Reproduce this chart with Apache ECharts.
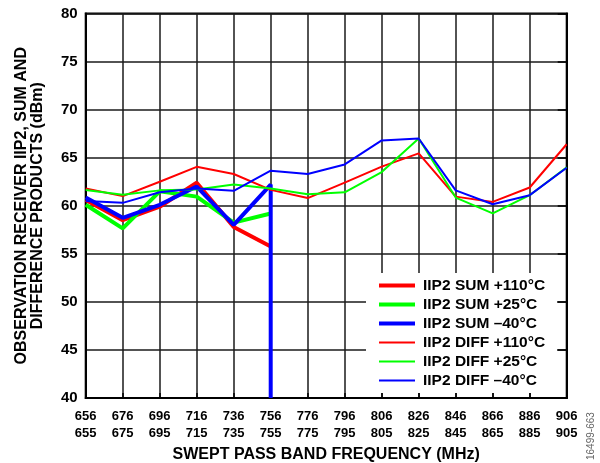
<!DOCTYPE html>
<html>
<head>
<meta charset="utf-8">
<script src="https://cdn.jsdelivr.net/npm/echarts@6/dist/echarts.min.js"></script>
<style>
html,body{margin:0;padding:0;background:#fff;}
#chart{width:600px;height:463px;}
</style>
</head>
<body>
<div id="chart"></div>
<script>
// Tick labels (two rows per category)
var freqTop = ['656','676','696','716','736','756','776','796','806','826','846','866','886','906'];
var freqBottom = ['655','675','695','715','735','755','775','795','805','825','845','865','885','905'];

// IIP2 SUM (only measured up to 756)
var sum110 = [60.6, 58.5, 59.9, 62.4, 57.8, 55.75];
var sum25  = [60.1, 57.65, 61.5, 60.95, 58.25, 59.2];
var sumM40 = [60.85, 58.75, 60.1, 62.0, 58.0, 62.2];
var sumM40Drop = 40; // blue SUM falls off at 756

// IIP2 DIFF
var diff110 = [61.8, 61.0, 62.5, 64.05, 63.3, 61.65, 60.8, 62.4, 64.07, 65.45, 60.95, 60.4, 61.9, 66.4];
var diff25  = [61.65, 61.15, 61.6, 61.7, 62.2, 61.8, 61.2, 61.4, 63.5, 67.0, 60.85, 59.2, 61.1, 64.0];
var diffM40 = [60.5, 60.3, 61.4, 61.8, 61.55, 63.65, 63.3, 64.3, 66.8, 67.0, 61.6, 60.15, 61.1, 63.95];

var names = ['IIP2 SUM +110°C','IIP2 SUM +25°C','IIP2 SUM \u201340°C','IIP2 DIFF +110°C','IIP2 DIFF +25°C','IIP2 DIFF \u201340°C'];
var colors = ['#ff0000','#00ff00','#0000ff','#ff0000','#00ff00','#0000ff'];
var widths = [4, 4, 4, 2, 2, 2];

function pairs(arr){ return arr.map(function(v,i){ return [i, v]; }); }
var blueSumData = pairs(sumM40);
blueSumData.push([sumM40.length - 1, sumM40Drop]);

var FONT = "'Liberation Sans', Arial, Helvetica, sans-serif";
var chart = echarts.init(document.getElementById('chart'), null, {renderer:'canvas'});

function line(i, data){
  return {
    name: names[i], type: 'line', data: data, symbol: 'none', showSymbol: false,
    lineStyle: {color: colors[i], width: widths[i]}, itemStyle: {color: colors[i]},
    animation: false, clip: true
  };
}

var option = {
  animation: false,
  backgroundColor: '#fff',
  grid: {left: 85.7, right: 33.3, top: 13.5, bottom: 65, show: true, borderColor: '#000', borderWidth: 2,
         backgroundColor: 'transparent', containLabel: false, outerBoundsMode: 'none'},
  xAxis: {
    type: 'value', min: 0, max: freqTop.length - 1, interval: 1,
    axisLine: {show: true, lineStyle: {color: '#000', width: 2}},
    axisTick: {show: true, inside: true, length: 5, lineStyle: {color: '#000', width: 1.5}},
    splitLine: {show: true, lineStyle: {color: '#1a1a1a', width: 1.5}},
    axisLabel: {
      show: true, margin: 10, color: '#000', fontFamily: FONT, fontWeight: 'bold', fontSize: 13, lineHeight: 17,
      showMinLabel: true, showMaxLabel: true,
      formatter: function(v){ var i = Math.round(v); return freqTop[i] + '\n' + freqBottom[i]; }
    },
    name: 'SWEPT PASS BAND FREQUENCY (MHz)', nameLocation: 'middle', nameGap: 46,
    nameTextStyle: {color: '#000', fontFamily: FONT, fontWeight: 'bold', fontSize: 16}
  },
  yAxis: [{
    type: 'value', min: 40, max: 80, interval: 5,
    axisLine: {show: true, lineStyle: {color: '#000', width: 2}},
    axisTick: {show: false},
    splitLine: {show: true, lineStyle: {color: '#1a1a1a', width: 1.5}},
    axisLabel: {margin: 8, color: '#000', fontFamily: FONT, fontWeight: 'bold', fontSize: 15},
    name: 'OBSERVATION RECEIVER IIP2, SUM AND\nDIFFERENCE PRODUCTS (dBm)',
    nameLocation: 'middle', nameRotate: 90, nameGap: 40,
    nameTextStyle: {color: '#000', fontFamily: FONT, fontWeight: 'bold', fontSize: 16, lineHeight: 16}
  },{
    type: 'value', min: 40, max: 80, interval: 5, position: 'right',
    axisLine: {show: true, lineStyle: {color: '#000', width: 2}},
    axisTick: {show: true, inside: true, length: 9, lineStyle: {color: '#000', width: 1.5}},
    splitLine: {show: false},
    axisLabel: {show: false}
  }],
  legend: {
    orient: 'vertical', left: 366, top: 273,
    backgroundColor: '#fff', padding: [3, 12, 3, 11],
    itemWidth: 36, itemHeight: 12, itemGap: 0,
    itemStyle: {opacity: 0},
    textStyle: {color: '#000', fontFamily: FONT, fontWeight: 'bold', fontSize: 15.5, lineHeight: 19, padding: [0, 0, 0, 3]},
    data: names.map(function(n, i){ return {name: n, lineStyle: {color: colors[i], width: widths[i]}}; })
  },
  series: [
    line(0, pairs(sum110)),
    line(1, pairs(sum25)),
    line(2, blueSumData),
    line(3, pairs(diff110)),
    line(4, pairs(diff25)),
    line(5, pairs(diffM40))
  ],
  graphic: [{
    type: 'text', x: 586, y: 460, rotation: Math.PI / 2,
    style: {text: '16499-663', fill: '#666', font: '10px ' + FONT, textAlign: 'left', textVerticalAlign: 'top'}
  }]
};
chart.setOption(option);
</script>
</body>
</html>
